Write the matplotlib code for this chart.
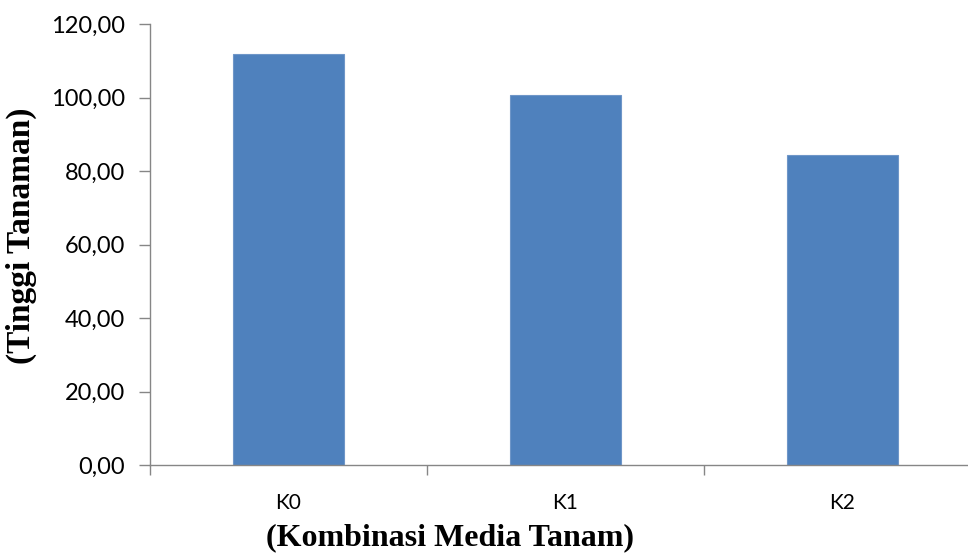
import matplotlib
matplotlib.use("Agg")
import matplotlib.pyplot as plt
from matplotlib.ticker import FuncFormatter

categories = ["K0", "K1", "K2"]
values = [111.8, 100.7, 84.3]
ytick_values = [0, 20, 40, 60, 80, 100, 120]

fig = plt.figure(figsize=(9.68, 5.57), dpi=100)
ax = fig.add_axes([150/968, (557-465)/557, 831/968, (465-24)/557])

x = range(len(categories))
ax.bar(x, values, width=0.4, color="#4f81bd", edgecolor="#6f96c8", linewidth=0.8)

ax.set_xlim(-0.5, 2.5)
ax.set_ylim(0, 120)
ax.set_yticks(ytick_values)
ax.yaxis.set_major_formatter(FuncFormatter(lambda v, p: f"{v:.2f}".replace(".", ",")))
ax.set_xticks([-0.5, 0.5, 1.5, 2.5], minor=False)
ax.set_xticklabels([])
ax.set_xticks(list(x), minor=True)
ax.set_xticklabels(categories, minor=True)
ax.tick_params(axis="x", which="minor", length=0, pad=20, labelsize=15)
ax.tick_params(axis="x", which="major", length=7, color="#868686", width=1)
ax.tick_params(axis="y", length=8, color="#868686", width=1, pad=10, labelsize=17)
for lab in ax.get_xticklabels(minor=True) + ax.get_yticklabels():
    lab.set_fontfamily("Lato")

for s in ["top", "right"]:
    ax.spines[s].set_visible(False)
for s in ["left", "bottom"]:
    ax.spines[s].set_color("#868686")
    ax.spines[s].set_linewidth(1)

fig.text(450/968, 1 - 538/557, "(Kombinasi Media Tanam)", ha="center", va="center",
         fontfamily="Liberation Serif", fontweight="bold", fontsize=23)
fig.text(21/968, 1 - 236/557, "(Tinggi Tanaman)", ha="center", va="center", rotation=90,
         fontfamily="Liberation Serif", fontweight="bold", fontsize=24)

fig.savefig("out.png", dpi=100)
